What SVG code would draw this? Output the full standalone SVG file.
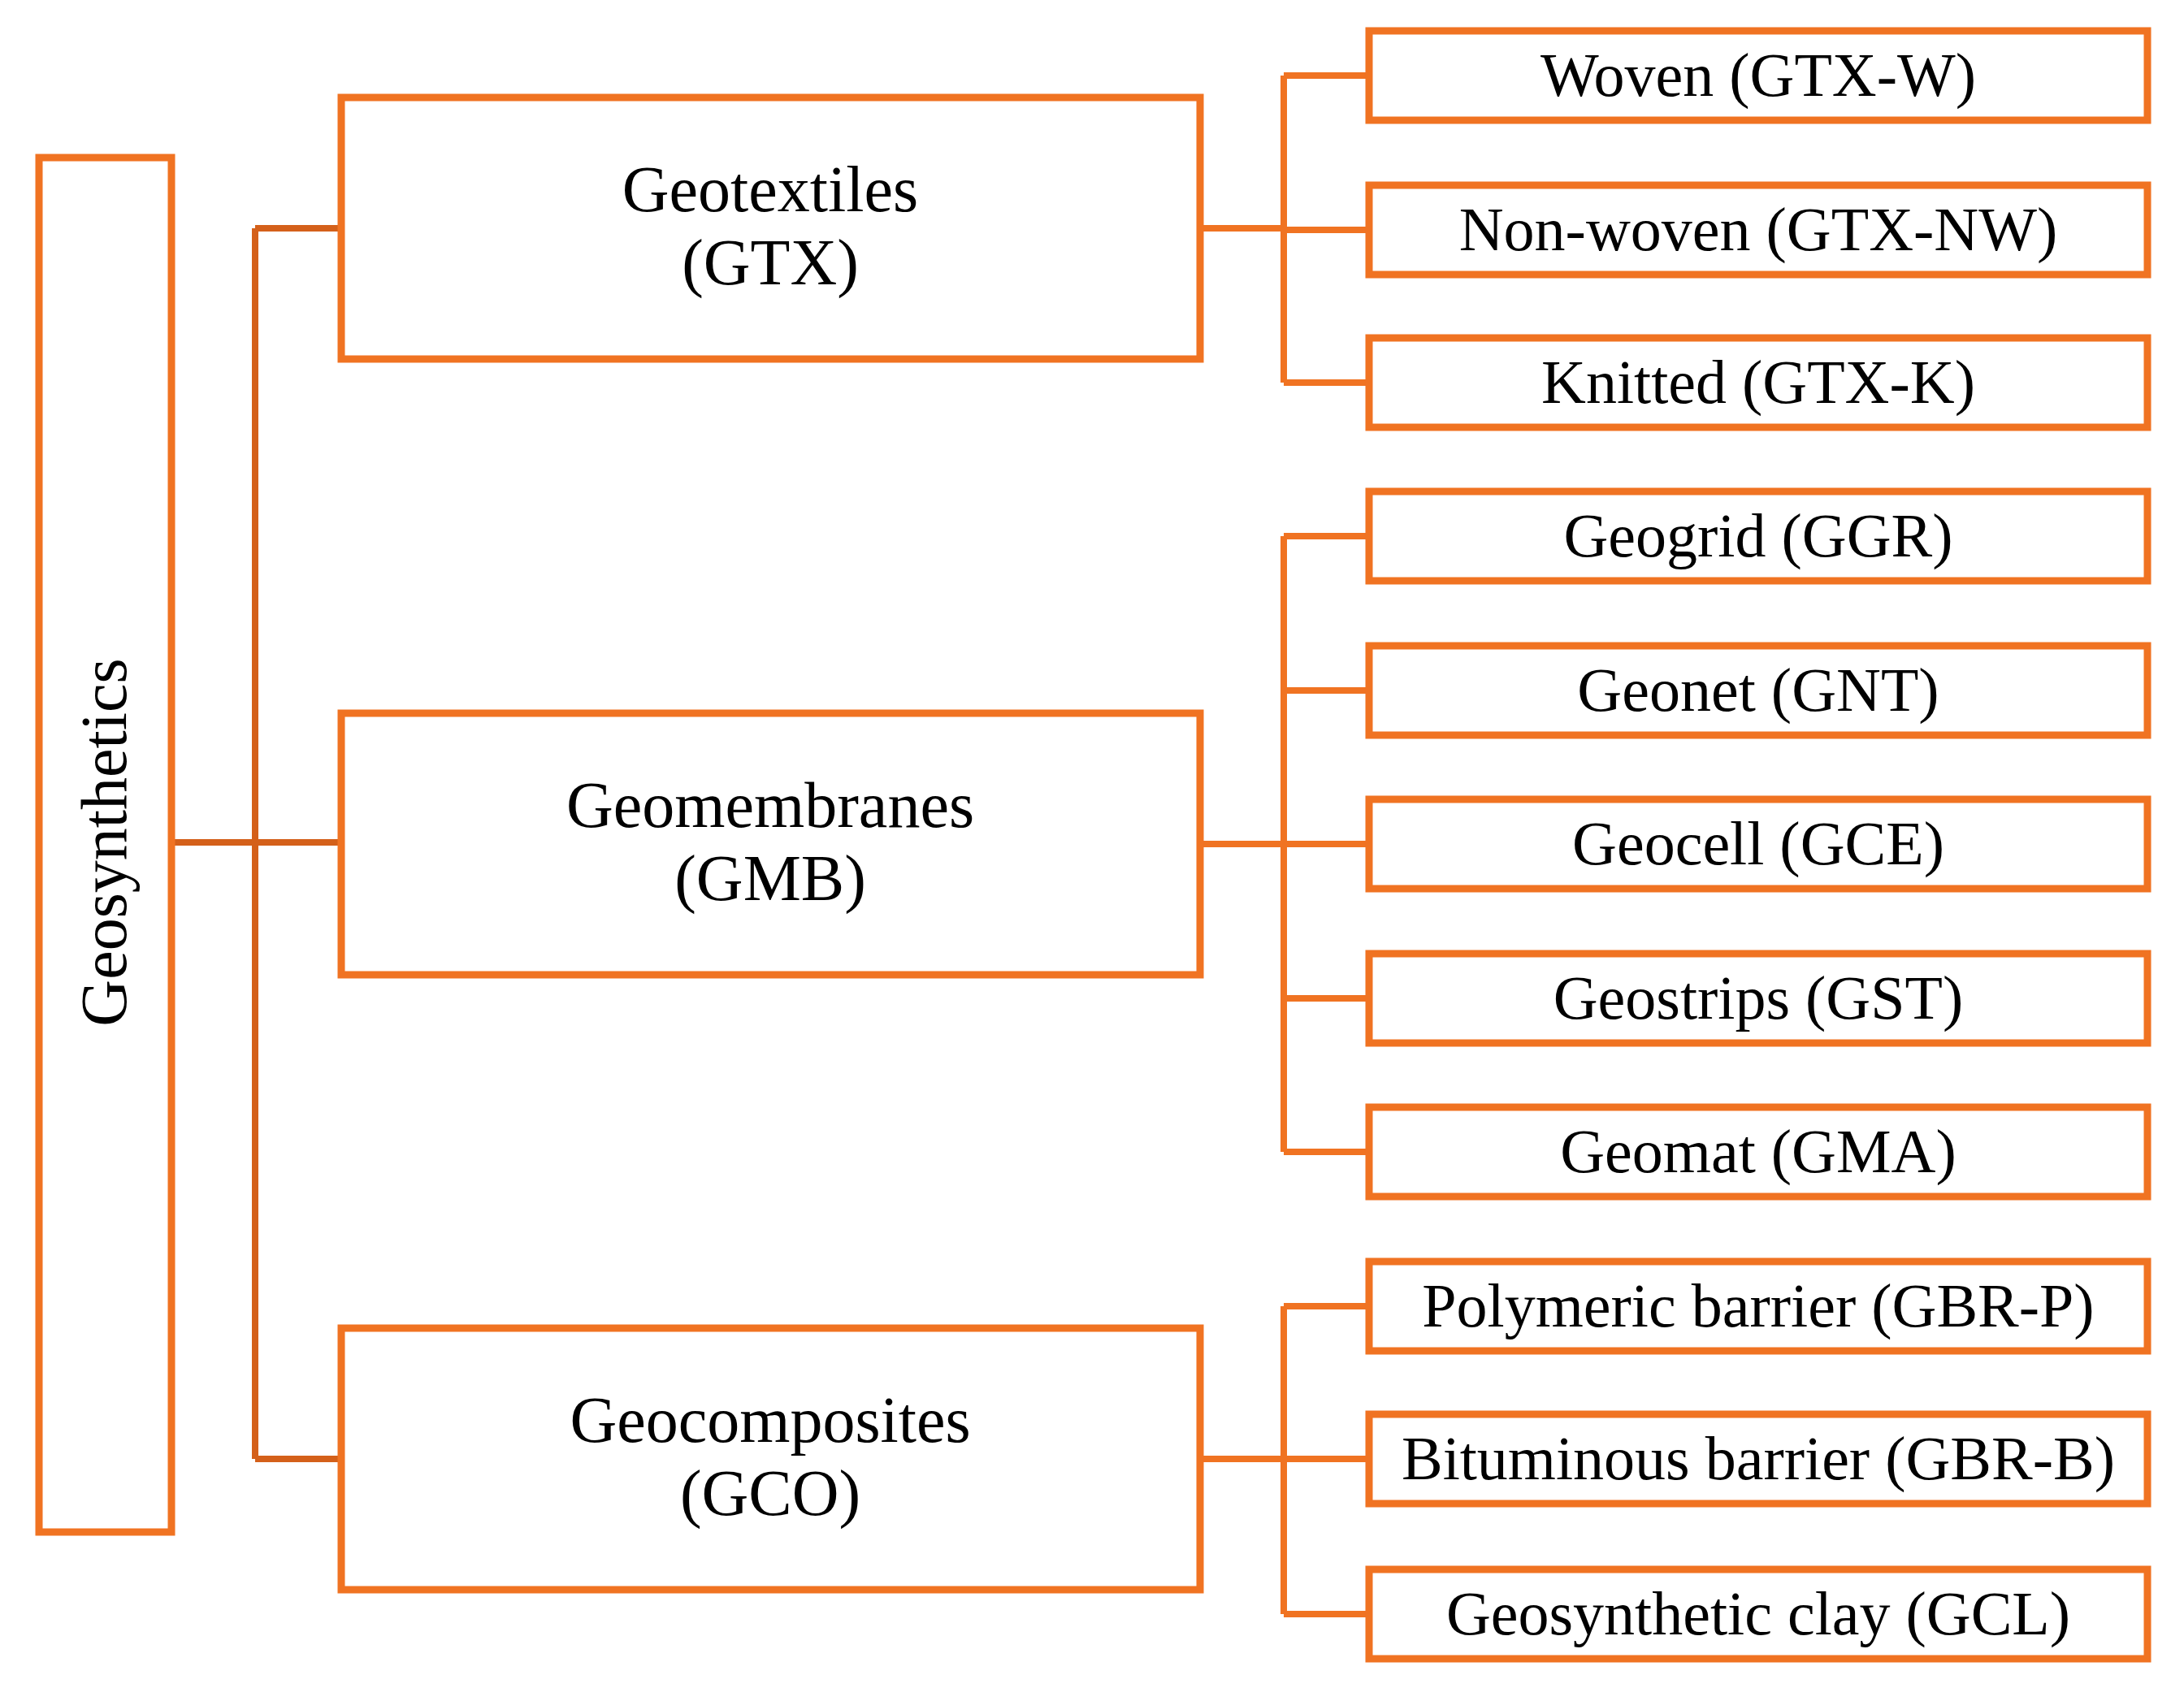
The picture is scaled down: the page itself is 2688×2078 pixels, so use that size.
<svg xmlns="http://www.w3.org/2000/svg" width="2688" height="2078" viewBox="0 0 2688 2078">
<style>
.b{fill:#fff;stroke:#F07322;stroke-width:9}
.c{fill:none;stroke:#F07322;stroke-width:8}
.d{fill:none;stroke:#D4601A;stroke-width:8}
text{font-family:"Liberation Serif","DejaVu Serif",serif;fill:#000;text-anchor:middle}
.m{font-size:80px}
.s{font-size:76px}
</style>
<rect width="2688" height="2078" fill="#fff"/>
<g id="connectors">
<path class="d" d="M211 1037H420M314 281V1796M314 281H420M314 1796H420"/>
<path class="c" d="M1477 281H1580M1580 93V471M1580 93H1685M1580 283H1685M1580 471H1685"/>
<path class="c" d="M1477 1039H1580M1580 660V1418M1580 660H1685M1580 850H1685M1580 1039H1685M1580 1229H1685M1580 1418H1685"/>
<path class="c" d="M1477 1796H1580M1580 1608V1987M1580 1608H1685M1580 1796H1685M1580 1987H1685"/>
</g>
<g id="root"><rect class="b" x="48" y="194" width="163" height="1692"/><text class="m" transform="translate(155 1037) rotate(-90)">Geosynthetics</text></g>
<g id="gtx"><rect class="b" x="420" y="120" width="1057" height="322"/><text class="m" x="948" y="260">Geotextiles</text><text class="m" x="948" y="350">(GTX)</text></g>
<g id="gmb"><rect class="b" x="420" y="878" width="1057" height="322"/><text class="m" x="948" y="1018">Geomembranes</text><text class="m" x="948" y="1108">(GMB)</text></g>
<g id="gco"><rect class="b" x="420" y="1635" width="1057" height="322"/><text class="m" x="948" y="1775">Geocomposites</text><text class="m" x="948" y="1865">(GCO)</text></g>
<g id="c1"><rect class="b" x="1685" y="38" width="958" height="110"/><text class="s" x="2164" y="118">Woven (GTX-W)</text></g>
<g id="c2"><rect class="b" x="1685" y="228" width="958" height="110"/><text class="s" x="2164" y="308">Non-woven (GTX-NW)</text></g>
<g id="c3"><rect class="b" x="1685" y="416" width="958" height="110"/><text class="s" x="2164" y="496">Knitted (GTX-K)</text></g>
<g id="c4"><rect class="b" x="1685" y="605" width="958" height="110"/><text class="s" x="2164" y="685">Geogrid (GGR)</text></g>
<g id="c5"><rect class="b" x="1685" y="795" width="958" height="110"/><text class="s" x="2164" y="875">Geonet (GNT)</text></g>
<g id="c6"><rect class="b" x="1685" y="984" width="958" height="110"/><text class="s" x="2164" y="1064">Geocell (GCE)</text></g>
<g id="c7"><rect class="b" x="1685" y="1174" width="958" height="110"/><text class="s" x="2164" y="1254">Geostrips (GST)</text></g>
<g id="c8"><rect class="b" x="1685" y="1363" width="958" height="110"/><text class="s" x="2164" y="1443">Geomat (GMA)</text></g>
<g id="c9"><rect class="b" x="1685" y="1553" width="958" height="110"/><text class="s" x="2164" y="1633">Polymeric barrier (GBR-P)</text></g>
<g id="c10"><rect class="b" x="1685" y="1741" width="958" height="110"/><text class="s" x="2164" y="1821">Bituminous barrier (GBR-B)</text></g>
<g id="c11"><rect class="b" x="1685" y="1932" width="958" height="110"/><text class="s" x="2164" y="2012">Geosynthetic clay (GCL)</text></g>
</svg>
